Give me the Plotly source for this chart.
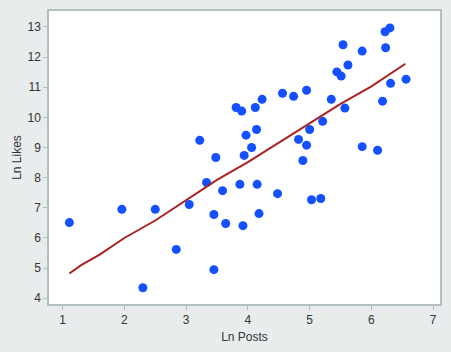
import plotly.graph_objects as go

ln_posts = [1.11, 1.96, 2.30, 2.50, 2.84, 3.05, 3.22, 3.33, 3.45, 3.45, 3.48, 3.59, 3.64,
            3.81, 3.87, 3.90, 3.92, 3.94, 3.97, 4.06, 4.12, 4.14, 4.15, 4.18, 4.23, 4.48,
            4.56, 4.74, 4.82, 4.89, 4.95, 4.95, 5.00, 5.03, 5.18, 5.21, 5.35, 5.44, 5.51,
            5.54, 5.57, 5.62, 5.85, 5.85, 6.10, 6.18, 6.22, 6.23, 6.30, 6.31, 6.56]
ln_likes = [6.51, 6.95, 4.35, 6.95, 5.62, 7.11, 9.24, 7.84, 6.78, 4.95, 8.67, 7.57, 6.48,
            10.33, 7.78, 10.21, 6.41, 8.74, 9.41, 9.00, 10.33, 9.60, 7.78, 6.81, 10.60, 7.47,
            10.80, 10.70, 9.27, 8.57, 10.90, 9.08, 9.60, 7.27, 7.31, 9.87, 10.60, 11.51, 11.37,
            12.41, 10.31, 11.74, 12.20, 9.03, 8.91, 10.54, 12.84, 12.31, 12.97, 11.13, 11.27]

fit_x = [1.11, 1.30, 1.60, 2.00, 2.50, 3.00, 3.50, 4.00, 4.50, 5.00, 5.50, 6.00, 6.55]
fit_y = [4.82, 5.10, 5.45, 6.00, 6.58, 7.27, 7.93, 8.52, 9.16, 9.80, 10.45, 11.03, 11.78]

x_ticks = [1, 2, 3, 4, 5, 6, 7]
y_ticks = [4, 5, 6, 7, 8, 9, 10, 11, 12, 13]

fig = go.Figure()
fig.add_trace(go.Scatter(x=ln_posts, y=ln_likes, mode="markers",
                         marker=dict(color="#1450ff", size=9, line=dict(width=0)),
                         showlegend=False))
fig.add_trace(go.Scatter(x=fit_x, y=fit_y, mode="lines",
                         line=dict(color="#a82222", width=2),
                         showlegend=False))

axis_common = dict(showgrid=False, zeroline=False, showline=True, linecolor="#b4c0c0",
                   linewidth=1.5, mirror=True, ticks="outside", ticklen=4, tickwidth=1,
                   tickcolor="#b4c0c0", tickfont=dict(family="Liberation Sans, Arial", size=12,
                                                       color="#333333"))

fig.update_layout(
    width=451, height=352,
    margin=dict(l=49, r=11, t=9, b=48),
    paper_bgcolor="#e8ecec", plot_bgcolor="#ffffff",
    xaxis=dict(range=[0.78, 7.11], tickvals=x_ticks,
               title=dict(text="Ln Posts", font=dict(family="Liberation Sans, Arial", size=12, color="#333333"),
                          standoff=6),
               **axis_common),
    yaxis=dict(range=[3.81, 13.53], tickvals=y_ticks,
               title=dict(text="Ln Likes", font=dict(family="Liberation Sans, Arial", size=12, color="#333333"),
                          standoff=3),
               **axis_common),
)

fig.write_html("out.html")
